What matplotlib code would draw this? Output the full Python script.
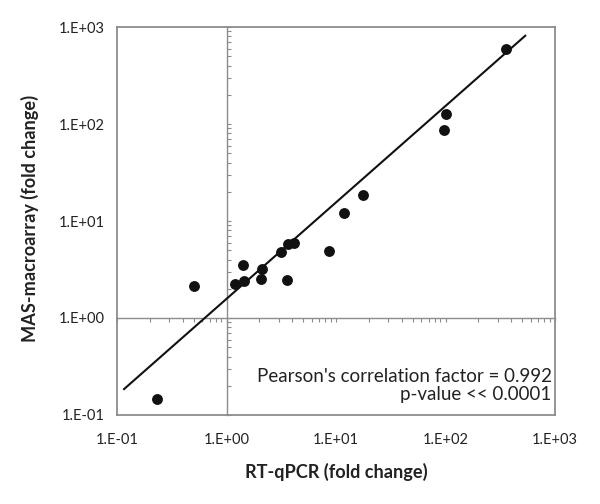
import numpy as np
import matplotlib
matplotlib.use('Agg')
import matplotlib.pyplot as plt
from matplotlib.ticker import FixedLocator, FuncFormatter, LogLocator, NullFormatter

plt.rcParams['font.family'] = ['Lato', 'DejaVu Sans']

# RT-qPCR vs MAS-macroarray fold changes
rtqpcr = np.array([355, 101.7, 96.3, 17.8, 11.9, 8.63, 4.13, 3.67, 3.15, 3.59,
                   2.11, 2.05, 1.41, 1.45, 1.20, 0.51, 0.23])
macroarray = np.array([593, 127, 86.7, 18.5, 12.2, 4.94, 5.89, 5.75, 4.76, 2.46,
                       3.22, 2.52, 3.52, 2.39, 2.22, 2.15, 0.145])

# trend line ends as drawn
trend_x = [0.116, 535]
trend_y = [0.185, 813]

lims = [0.1, 1000]
decades = [0.1, 1, 10, 100, 1000]

fig = plt.figure(figsize=(6, 5.04), dpi=100)
ax = fig.add_axes([0.195, 0.1766, 0.73, 0.7698])
ax.set_xscale('log')
ax.set_yscale('log')
ax.set_xlim(lims)
ax.set_ylim(lims)

grey = '#8c8c8c'
for s in ax.spines.values():
    s.set_color(grey)
    s.set_linewidth(1.3)

fmt = FuncFormatter(lambda v, p: '1.E%+03d' % int(round(np.log10(v))))
for axis in (ax.xaxis, ax.yaxis):
    axis.set_major_locator(FixedLocator(decades))
    axis.set_major_formatter(fmt)
    axis.set_minor_formatter(NullFormatter())
ax.tick_params(which='both', length=0, labelsize=10.5, colors='#222222')
ax.tick_params(axis='y', pad=8.6)
ax.tick_params(axis='x', pad=13)

# axes crossing at 1 (Excel style) with minor ticks
pos = (np.log10(1) - np.log10(lims[0])) / (np.log10(lims[1]) - np.log10(lims[0]))
secx = ax.secondary_xaxis(pos)
secy = ax.secondary_yaxis(pos)
for sec, axis in ((secx, secx.xaxis), (secy, secy.yaxis)):
    axis.set_major_locator(FixedLocator(decades))
    axis.set_minor_locator(LogLocator(subs=np.arange(2, 10)))
    axis.set_major_formatter(NullFormatter())
    axis.set_minor_formatter(NullFormatter())
    sec.tick_params(which='both', length=3, width=0.8, color=grey)
    for s in sec.spines.values():
        s.set_color(grey)
        s.set_linewidth(1.0)
secy.tick_params(which='both', direction='in')

ax.plot(trend_x, trend_y, color='#111111', lw=1.5, zorder=3)
ax.plot(rtqpcr, macroarray, 'o', color='#111111', ms=6.8, zorder=4)

ax.text(0.9925, 0.0843, "Pearson's correlation factor = 0.992", transform=ax.transAxes,
        ha='right', va='baseline', fontsize=13.5, color='#222222')
ax.text(0.9925, 0.0387, 'p-value << 0.0001', transform=ax.transAxes,
        ha='right', va='baseline', fontsize=13.5, color='#222222')

ax.set_xlabel('RT-qPCR (fold change)', fontsize=13.1, fontweight='bold', color='#222222')
ax.set_ylabel('MAS-macroarray (fold change)', fontsize=13.1, fontweight='bold', color='#222222')
ax.xaxis.set_label_coords(0.5, -0.147)
ax.yaxis.set_label_coords(-0.1986, 0.506)
ax.xaxis.label.set_va('center')
ax.yaxis.label.set_va('center')

fig.savefig('out.png', dpi=100)
